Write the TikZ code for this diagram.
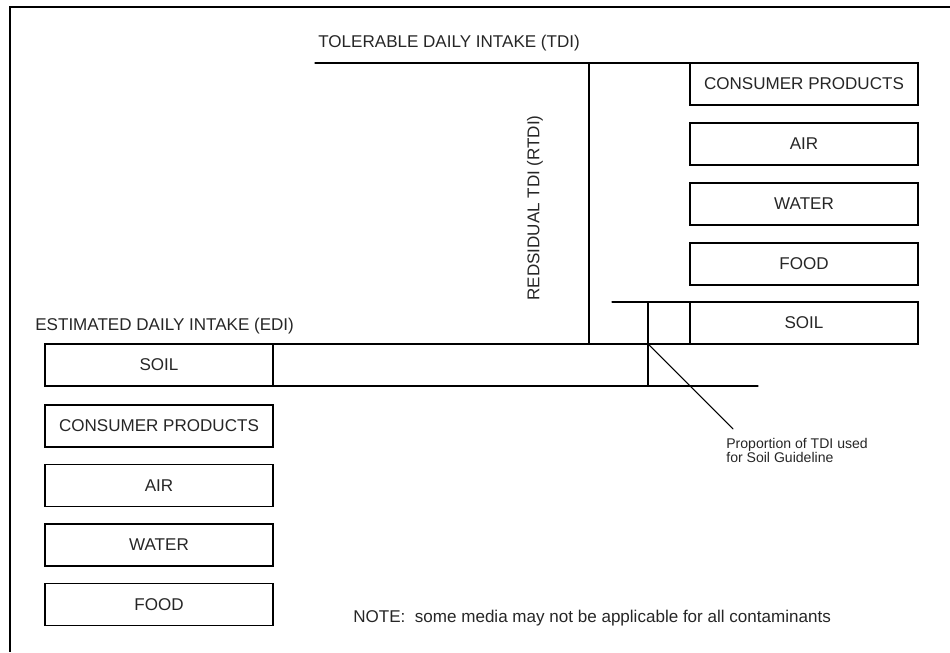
\documentclass[tikz,border=0pt]{standalone}
\usepackage{fontspec}
\setmainfont{Liberation Sans}
\usepackage{tkz-euclide}

\tikzset{
  mediabox/.style={draw,line width=0.6pt,minimum width=4.56cm,minimum height=0.84cm,
    inner sep=0pt,font=\fontsize{9.7}{11}\selectfont,text=black!85},
  caption/.style={inner sep=0pt,font=\fontsize{9.7}{11}\selectfont,text=black!85},
  smallnote/.style={inner sep=0pt,align=left,font=\fontsize{8}{8}\selectfont,text=black!85}
}

\begin{document}
\begin{tikzpicture}
\useasboundingbox (0,0) rectangle (19,13.04);
% frame
\coordinate (FR) at (19,12.9);\coordinate (FC) at (0.2,12.9);\coordinate (FB) at (0.2,0);
\draw[line width=1.1pt] (FR) -- (FC) -- (FB);
% lines of the intake bars
\tkzDefPoint(6.30,11.78){T_{1}}\tkzDefPoint(18.36,11.78){T_{2}}
\tkzDefPoint(11.78,11.78){R_{1}}\tkzDefPoint(11.78,6.16){R_{2}}
\tkzDefPoint(0.90,6.16){E_{1}}\tkzDefPoint(18.36,6.16){E_{2}}
\tkzDefPoint(12.24,7.00){S_{1}}\tkzDefPoint(18.36,7.00){S_{2}}
\tkzDefPoint(12.96,7.00){P_{1}}\tkzDefPoint(12.96,5.32){P_{2}}
\tkzDefPoint(5.46,5.32){L_{1}}\tkzDefPoint(15.16,5.32){L_{2}}
\tkzDefPoint(12.96,6.16){P}
\tkzDefPoint(14.66,4.46){G}
\tkzDrawSegments[line width=0.6pt](T_{1},T_{2} R_{1},R_{2} E_{1},E_{2} S_{1},S_{2} P_{1},P_{2} L_{1},L_{2} P,G)
% media on the TDI side
\node[mediabox] (rcons) at (16.08,11.36) {CONSUMER PRODUCTS};
\node[mediabox] (rair) at (16.08,10.16) {AIR};
\node[mediabox] (rwater) at (16.08,8.96) {WATER};
\node[mediabox] (rfood) at (16.08,7.76) {FOOD};
\node[mediabox] (rsoil) at (16.08,6.58) {SOIL};
% media on the EDI side
\node[mediabox] (lsoil) at (3.18,5.74) {SOIL};
\node[mediabox] (lcons) at (3.18,4.52) {CONSUMER PRODUCTS};
\node[mediabox] (lair) at (3.18,3.33) {AIR};
\node[mediabox] (lwater) at (3.18,2.14) {WATER};
\node[mediabox] (lfood) at (3.18,0.95) {FOOD};
% labels
\node[caption,anchor=west] (tdi) at (6.36,12.18) {TOLERABLE DAILY INTAKE (TDI)};
\node[caption,anchor=west] (edi) at (0.70,6.52) {ESTIMATED DAILY INTAKE (EDI)};
\node[caption,rotate=90] (rtdi) at (10.70,8.88) {REDSIDUAL TDI (RTDI)};
\node[smallnote,anchor=west] (prop) at (14.52,4.04) {Proportion of TDI used\\for Soil Guideline};
\node[caption,anchor=west] (note) at (7.06,0.68) {NOTE:\ \ some media may not be applicable for all contaminants};
\end{tikzpicture}
\end{document}
